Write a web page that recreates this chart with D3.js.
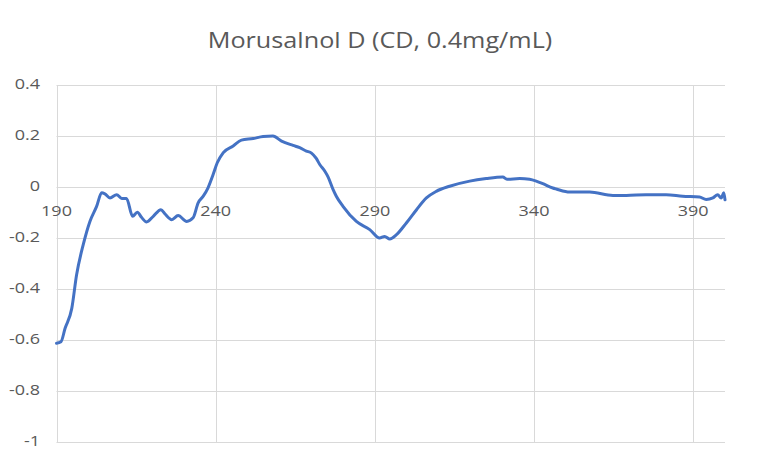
<!DOCTYPE html>
<html>
<head>
<meta charset="utf-8">
<script src="https://cdn.jsdelivr.net/npm/d3@7/dist/d3.min.js"></script>
<style>
  body { margin: 0; background: #fff; }
  svg { display: block; font-family: "Open Sans", sans-serif; }
</style>
</head>
<body>
<div id="chart"></div>
<script>
// CD spectrum
const wavelength = [190, 191.4, 192.7, 194.8, 196.3, 198.4, 200.5, 202.6, 204.2, 205.2, 206.8, 208.9, 210.5, 212,
  213.9, 215.4, 216.7, 218.3, 220.4, 222.8, 224.1, 226.2, 228.2, 230.9, 232.9, 234.5, 236.1, 237.6, 239.2,
  240.5, 242.4, 245.5, 248.1, 251.8, 254.9, 258, 260.7, 264.3, 266.4, 268.5, 270.1, 271.6, 272.7, 274.3, 275.3,
  276.9, 277.9, 280, 284.2, 288.4, 291.5, 293.1, 294.7, 296.8, 299.9, 303.1, 306.2, 309.3, 313.5, 319.8, 325,
  330.2, 331.5, 335.5, 338.6, 340.7, 342.8, 345.9, 347, 351.2, 357.5, 364.8, 369, 375.2, 381.5, 386.7, 392,
  394.1, 396.2, 397.7, 398.8, 399.6, 400];
const cd = [-0.613, -0.607, -0.554, -0.476, -0.345, -0.226, -0.135, -0.076, -0.023, -0.027, -0.043, -0.030, -0.045, -0.045,
  -0.115, -0.099, -0.119, -0.137, -0.115, -0.089, -0.106, -0.128, -0.112, -0.135, -0.121, -0.062, -0.036, -0.003, 0.049,
  0.095, 0.135, 0.161, 0.184, 0.190, 0.198, 0.200, 0.180, 0.163, 0.154, 0.141, 0.133, 0.112, 0.088, 0.062, 0.040,
  -0.010, -0.036, -0.076, -0.135, -0.167, -0.200, -0.194, -0.204, -0.187, -0.141, -0.089, -0.043, -0.017, 0.003, 0.023, 0.033,
  0.039, 0.030, 0.033, 0.030, 0.023, 0.013, -0.004, -0.008, -0.020, -0.020, -0.033, -0.033, -0.030, -0.030, -0.036, -0.039,
  -0.049, -0.043, -0.030, -0.043, -0.023, -0.050];

const xTicks = [190, 240, 290, 340, 390];
const yTicks = [0.4, 0.2, 0, -0.2, -0.4, -0.6, -0.8, -1];
const title = "Morusalnol D (CD, 0.4mg/mL)";

const width = 758, height = 462;
const margin = {top: 85, right: 33, bottom: 20, left: 56.5};
const stretch = 1.2; // the text in the picture is a bit wide

const svg = d3.select("#chart").append("svg")
  .attr("width", width)
  .attr("height", height);

const x = d3.scaleLinear().domain([190, 400]).range([margin.left, width - margin.right]);
const y = d3.scaleLinear().domain([-1, 0.4]).range([height - margin.bottom, margin.top]);

// horizontal gridlines
svg.append("g")
  .selectAll("line")
  .data(yTicks)
  .join("line")
  .attr("x1", x(190)).attr("x2", x(400))
  .attr("y1", d => Math.round(y(d)) + 0.5).attr("y2", d => Math.round(y(d)) + 0.5)
  .attr("stroke", "#d9d9d9").attr("stroke-width", 1);

// vertical gridlines
svg.append("g")
  .selectAll("line")
  .data(xTicks)
  .join("line")
  .attr("x1", d => Math.round(x(d)) + 0.5).attr("x2", d => Math.round(x(d)) + 0.5)
  .attr("y1", y(0.4)).attr("y2", y(-1))
  .attr("stroke", "#d9d9d9").attr("stroke-width", 1);

// y labels
svg.append("g")
  .selectAll("text")
  .data(yTicks)
  .join("text")
  .attr("transform", d => `translate(40,${y(d)}) scale(${stretch},1)`)
  .attr("dy", "0.26em")
  .attr("text-anchor", "end")
  .attr("fill", "#595959")
  .style("font-size", "15px")
  .text(d => String(d));

// x labels sit under the zero line
svg.append("g")
  .selectAll("text")
  .data(xTicks)
  .join("text")
  .attr("transform", d => `translate(${x(d)},${y(0) + 29}) scale(${stretch},1)`)
  .attr("text-anchor", "middle")
  .attr("fill", "#595959")
  .style("font-size", "15px")
  .text(d => d);

// the curve
const line = d3.line()
  .x((d, i) => x(wavelength[i]))
  .y(d => y(d))
  .curve(d3.curveMonotoneX);

svg.append("path")
  .datum(cd)
  .attr("d", line)
  .attr("fill", "none")
  .attr("stroke", "#4472c4")
  .attr("stroke-width", 3)
  .attr("stroke-linejoin", "round")
  .attr("stroke-linecap", "round");

svg.append("text")
  .attr("transform", `translate(380,47.5) scale(${stretch},1)`)
  .attr("text-anchor", "middle")
  .attr("fill", "#595959")
  .style("font-size", "21px")
  .text(title);
</script>
</body>
</html>
